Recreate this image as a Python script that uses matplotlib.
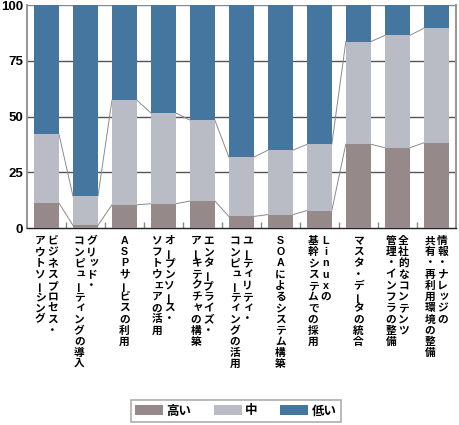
import matplotlib
matplotlib.use("Agg")
from matplotlib import pyplot as plt
from matplotlib.patches import Patch

# category labels, each one written as vertical columns (rightmost column first)
labels = [
    ["ビジネスプロセス・", "アウトソーシング"],
    ["グリッド・", "コンピューティングの導入"],
    ["ASPサービスの利用"],
    ["オープンソース・", "ソフトウェアの活用"],
    ["エンタープライズ・", "アーキテクチャの構築"],
    ["ユーティリティ・", "コンピューティングの活用"],
    ["SOAによるシステム構築"],
    ["Linuxの", "基幹システムでの採用"],
    ["マスタ・データの統合"],
    ["全社的なコンテンツ", "管理・インフラの整備"],
    ["情報・ナレッジの", "共有・再利用環境の整備"],
]
high = [11.2, 1.2, 10.4, 10.9, 12.1, 5.2, 6.0, 7.8, 37.6, 36.0, 38.2]
mid = [30.9, 13.1, 46.9, 40.7, 36.3, 26.6, 28.9, 29.7, 46.0, 50.4, 51.4]
low = [100 - h - m for h, m in zip(high, mid)]
series_names = ["高い", "中", "低い"]
colors = ["#958a89", "#b9bbc5", "#44769f"]
yticks = [0, 25, 50, 75, 100]

jp = "Noto Sans CJK JP"
plt.rcParams["font.family"] = [jp, "DejaVu Sans"]

fig = plt.figure(figsize=(4.6, 4.25), dpi=100)
ax = fig.add_axes([0.0587, 0.4635, 0.932, 0.5245])

x = list(range(len(labels)))
w = 0.64
bottom2 = high
bottom3 = [h + m for h, m in zip(high, mid)]
ax.bar(x, high, w, color=colors[0], zorder=3)
ax.bar(x, mid, w, bottom=bottom2, color=colors[1], zorder=3)
ax.bar(x, low, w, bottom=bottom3, color=colors[2], zorder=3)

# thin lines joining the segment boundaries of neighbouring bars
for vals in (high, bottom3):
    for i in range(len(vals) - 1):
        ax.plot([i + w / 2, i + 1 - w / 2], [vals[i], vals[i + 1]],
                color="#8a8a8a", lw=0.7, zorder=2)

ax.set_xlim(-0.5, len(labels) - 0.5)
ax.set_ylim(0, 100)
ax.set_yticks(yticks)
ax.set_yticklabels([str(t) for t in yticks], fontfamily="Liberation Sans",
                   fontweight="bold", fontsize=9.5)
ax.tick_params(axis="y", length=0, pad=3)
for t in yticks[1:]:
    ax.axhline(t, color="#555555" if t < 100 else "#888888", lw=1, zorder=1)

ax.set_xticks([i + 0.5 for i in x[:-1]])
ax.set_xticklabels([])
ax.tick_params(axis="x", direction="in", length=4, color="#888888", width=1)

ax.spines["top"].set_visible(False)
ax.spines["left"].set_color("#999999")
ax.spines["left"].set_linewidth(1.5)
ax.spines["right"].set_color("#999999")
ax.spines["right"].set_linewidth(1.5)
ax.spines["bottom"].set_color("#222222")
ax.spines["bottom"].set_linewidth(1)

# vertical (tategaki) category labels, one glyph at a time
step = 11.2
col_gap = 12.5
small = set("ッィュャェョァォ")
for i, cols in enumerate(labels):
    n = len(cols)
    for j, col in enumerate(cols):
        dx = ((n - 1) / 2 - j) * col_gap
        for k, ch in enumerate(col):
            dy = -(13 + k * step)
            rot = 90 if ch == "ー" else 0
            ox, oy = (1.5, 1.5) if ch in small else (0, 0)
            fam = "Liberation Sans" if ch.isascii() else jp
            ax.annotate(ch, xy=(i, 0), xycoords=("data", "axes fraction"),
                        xytext=(dx + ox, dy + oy), textcoords="offset pixels",
                        ha="center", va="center", rotation=rot,
                        fontsize=7.7, fontweight="bold", family=fam,
                        annotation_clip=False)

handles = [Patch(facecolor=c, edgecolor="none") for c in colors]
leg = fig.legend(handles, series_names, loc="center",
                 bbox_to_anchor=(0.513, 0.033), ncol=3, frameon=True,
                 fancybox=False, edgecolor="#999999",
                 prop={"family": jp, "weight": "bold", "size": 9},
                 handlelength=2.2, handleheight=0.9, columnspacing=1.8,
                 handletextpad=0.3, borderpad=0.35)
leg.get_frame().set_linewidth(1.2)

fig.savefig("out.png", dpi=100)
